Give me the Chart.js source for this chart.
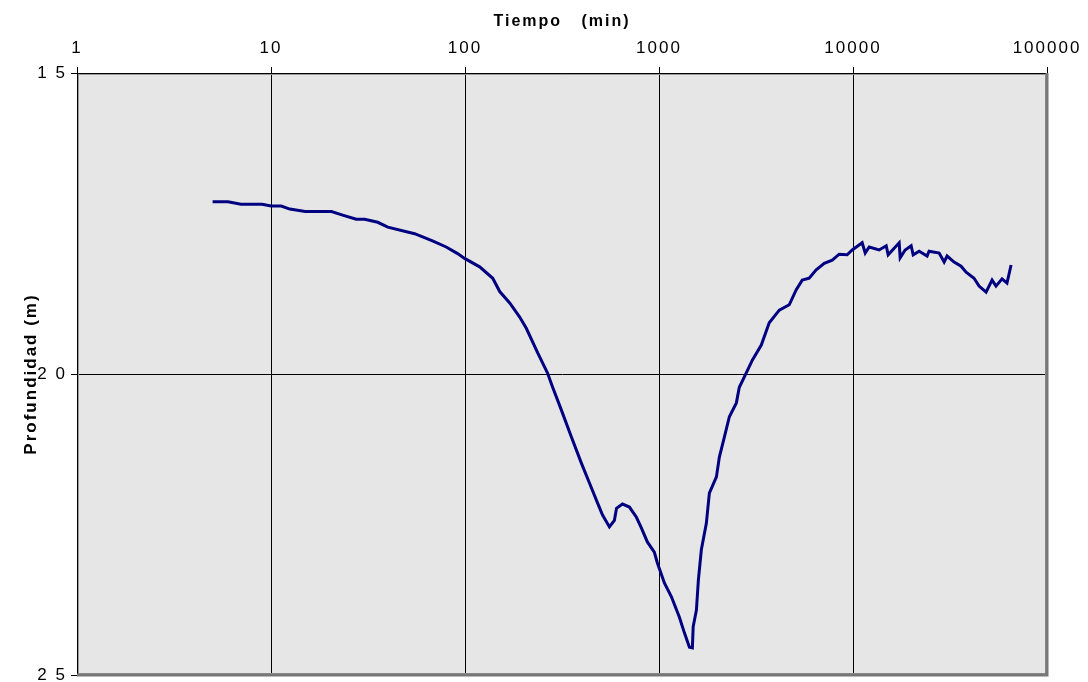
<!DOCTYPE html>
<html>
<head>
<meta charset="utf-8">
<script src="https://cdn.jsdelivr.net/npm/chart.js@4.4.0/dist/chart.umd.min.js"></script>
<style>
    html, body { margin: 0; padding: 0; background: #fff; }
</style>
</head>
<body>
<canvas id="profundidad" width="1088" height="682"></canvas>
<script>
// Datos (tiempo en min, profundidad en m)
var tiempo = [
    5, 6, 7, 9, 10, 11.3, 12.5, 15, 20.5, 23.4, 27.5, 30.4, 35.5, 40, 55,
    68, 80, 91.6, 99.5, 119, 139, 151, 170, 191, 207, 237, 266, 283, 314, 354,
    398, 438, 482, 511, 555, 589, 604, 648, 704, 765, 812, 871, 946, 981, 1066,
    1159, 1274, 1352, 1435, 1486, 1500, 1559, 1596, 1653, 1754, 1818, 1977, 2047, 2172, 2305,
    2505, 2594, 2818, 3027, 3367, 3700, 4170, 4692, 5100, 5475, 5945, 6460, 7110, 7815, 8490,
    9330, 9910, 11150, 11560, 12120, 13640, 14830, 15180, 16300, 17300, 17500, 18570, 19940, 20420, 21930,
    24100, 24670, 27800, 29500, 30550, 33200, 36060, 38290, 42070, 44650, 48530, 50270, 52100, 54600, 58660,
    62200, 65300
];
var profundidad = [
    17.14, 17.14, 17.18, 17.18, 17.21, 17.21, 17.26, 17.30, 17.30, 17.36, 17.43, 17.43, 17.48, 17.56, 17.67,
    17.79, 17.89, 18.00, 18.08, 18.22, 18.41, 18.63, 18.82, 19.05, 19.24, 19.65, 19.98, 20.22, 20.60, 21.05,
    21.48, 21.81, 22.14, 22.34, 22.54, 22.43, 22.23, 22.16, 22.21, 22.38, 22.56, 22.79, 22.96, 23.14, 23.47,
    23.70, 24.04, 24.30, 24.54, 24.55, 24.20, 23.92, 23.42, 22.92, 22.48, 21.98, 21.71, 21.38, 21.05, 20.71,
    20.48, 20.22, 19.98, 19.77, 19.52, 19.15, 18.94, 18.85, 18.60, 18.44, 18.41, 18.27, 18.16, 18.11, 18.01,
    18.02, 17.94, 17.82, 17.99, 17.89, 17.94, 17.87, 18.02, 17.91, 17.82, 18.07, 17.94, 17.87, 18.02, 17.96,
    18.04, 17.96, 17.99, 18.14, 18.04, 18.14, 18.21, 18.31, 18.41, 18.54, 18.64, 18.54, 18.44, 18.54, 18.42,
    18.49, 18.19
];
var ticksX = [1, 10, 100, 1000, 10000, 100000];
var ticksY = [15, 20, 25];

var puntos = tiempo.map(function (t, i) { return { x: t, y: profundidad[i] }; });

// Fondo gris, marco y espaciado de letras
var estilo = {
    id: "estilo",
    beforeLayout: function (chart) { chart.ctx.letterSpacing = "2px"; },
    beforeDraw: function (chart) {
        var a = chart.chartArea, ctx = chart.ctx;
        ctx.save();
        ctx.fillStyle = "#e6e6e6";
        ctx.fillRect(a.left, a.top, a.right - a.left, a.bottom - a.top);
        ctx.restore();
        ctx.letterSpacing = "2px";
    },
    afterDraw: function (chart) {
        var a = chart.chartArea, ctx = chart.ctx;
        ctx.save();
        ctx.strokeStyle = "#9a9a9a";
        ctx.lineWidth = 1;
        ctx.strokeRect(a.left + 1.5, a.top + 1.5, a.right - a.left - 3, a.bottom - a.top - 3);
        ctx.strokeStyle = "#777";
        ctx.lineWidth = 3;
        ctx.beginPath();
        ctx.moveTo(a.right, a.top);
        ctx.lineTo(a.right, a.bottom);
        ctx.lineTo(a.left, a.bottom);
        ctx.stroke();
        ctx.restore();
    }
};

Chart.defaults.font.family = "'Liberation Sans', Arial, sans-serif";
Chart.defaults.color = "#000";

var grafico = new Chart(document.querySelector("#profundidad"), {
    type: "line",
    data: {
        datasets: [{
            label: "Profundidad",
            data: puntos,
            borderColor: "#000080",
            borderWidth: 3,
            pointRadius: 0,
            fill: false,
            tension: 0
        }]
    },
    options: {
        responsive: false,
        animation: false,
        layout: { padding: { left: 0, top: 0, right: 41, bottom: 7 } },
        plugins: { legend: { display: false }, tooltip: { enabled: false } },
        scales: {
            x: {
                type: "logarithmic",
                position: "top",
                min: 1,
                max: 100000,
                afterBuildTicks: function (s) { s.ticks = ticksX.map(function (v) { return { value: v }; }); },
                afterFit: function (s) { s.height = 73; s.paddingLeft = 0; s.paddingRight = 0; },
                ticks: {
                    callback: function (v) { return String(v); },
                    font: { size: 17 },
                    padding: 8,
                    maxRotation: 0,
                    autoSkip: false
                },
                grid: { color: "#000", lineWidth: 1, tickLength: 6 },
                border: { color: "#000", width: 1 },
                title: {
                    display: true,
                    text: "Tiempo   (min)",
                    font: { size: 16, weight: "bold" },
                    padding: { top: 12, bottom: 0 }
                }
            },
            y: {
                type: "linear",
                reverse: true,
                min: 15,
                max: 25,
                afterBuildTicks: function (s) { s.ticks = ticksY.map(function (v) { return { value: v }; }); },
                afterFit: function (s) { s.width = 77; s.paddingTop = 0; s.paddingBottom = 0; },
                ticks: {
                    callback: function (v) { return String(v).split("").join(" "); },
                    font: { size: 17 },
                    padding: 4
                },
                grid: { color: "#000", lineWidth: 1, tickLength: 6 },
                border: { color: "#000", width: 1 },
                title: {
                    display: true,
                    text: "Profundidad (m)",
                    font: { size: 17, weight: "bold" },
                    padding: { top: 21, bottom: 0 }
                }
            }
        }
    },
    plugins: [estilo]
});
</script>
</body>
</html>
